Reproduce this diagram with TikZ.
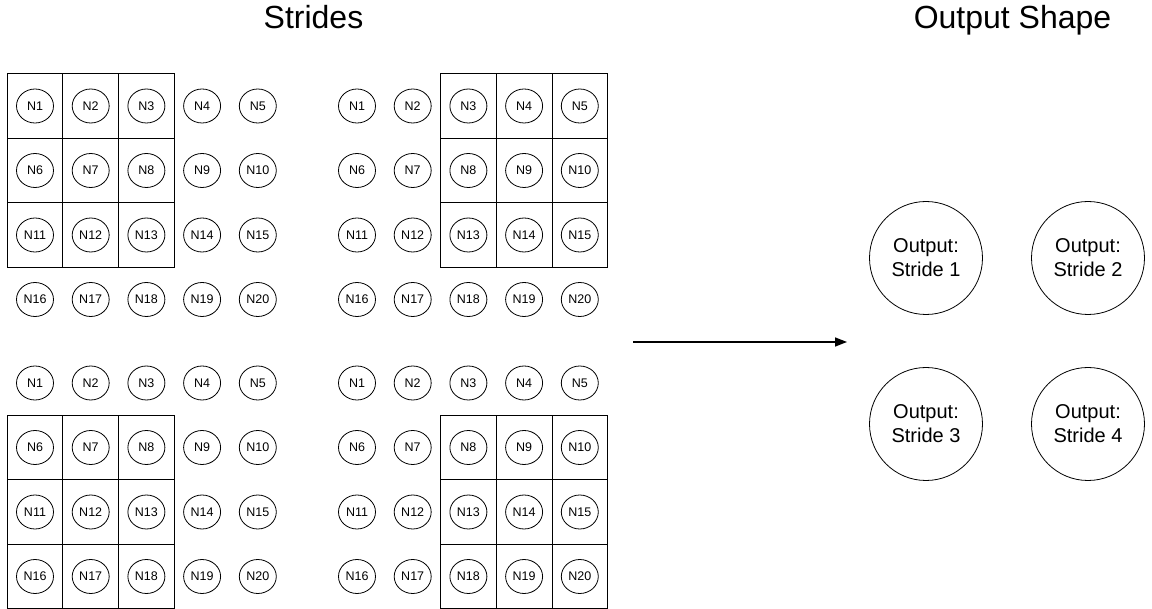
\documentclass[tikz,border=0pt]{standalone}
\usepackage{fontspec}
\setmainfont{Liberation Sans}
\usetikzlibrary{arrows.meta,shapes.geometric}
\begin{document}
\begin{tikzpicture}[x=1pt,y=-1pt,
  neuron/.style={draw,ellipse,minimum width=37pt,minimum height=34pt,inner sep=0pt,
    line width=0.8pt,font=\fontsize{12.5}{15}\selectfont},
  outnode/.style={draw,circle,minimum size=113pt,inner sep=0pt,line width=0.8pt,
    align=center,font=\fontsize{20}{24}\selectfont},
  cell/.style={draw,line width=0.9pt},
  title/.style={font=\fontsize{32}{36}\selectfont,anchor=base,inner sep=0pt}]
\useasboundingbox (0,0) rectangle (1152,609);

% titles
\node[title] (strides) at (313.5,29) {Strides};
\node[title] (outshape) at (1012.5,29) {Output Shape};

% four 4x5 input grids, each with its 3x3 stride window
\foreach \p/\xo/\yo/\bc/\br in {tl/35/106/0/0, tr/357/106/2/0, bl/35/383/0/1, br/357/383/2/1} {
  \foreach \r in {0,...,2} {
    \foreach \c in {0,...,2} {
      \draw[cell] (\xo+55.7*\c+55.7*\bc-27.85, \yo+64.5*\r+64.5*\br-32.25) rectangle ++(55.7,64.5);
    }
  }
  \foreach \r in {0,...,3} {
    \foreach \c in {0,...,4} {
      \pgfmathtruncatemacro\k{5*\r+\c+1}
      \node[neuron] (\p-\k) at (\xo+55.7*\c, \yo+64.5*\r) {N\k};
    }
  }
}

% arrow towards the outputs
\coordinate (arrowtail) at (633,342);
\coordinate (arrowtip) at (847,342);
\draw[line width=1.6pt,-{Triangle[length=12pt,width=9pt]}] (arrowtail) -- (arrowtip);

% output nodes
\node[outnode] (out1) at (926,258) {Output:\\Stride 1};
\node[outnode] (out2) at (1088,258) {Output:\\Stride 2};
\node[outnode] (out3) at (926,424) {Output:\\Stride 3};
\node[outnode] (out4) at (1088,424) {Output:\\Stride 4};
\end{tikzpicture}
\end{document}
